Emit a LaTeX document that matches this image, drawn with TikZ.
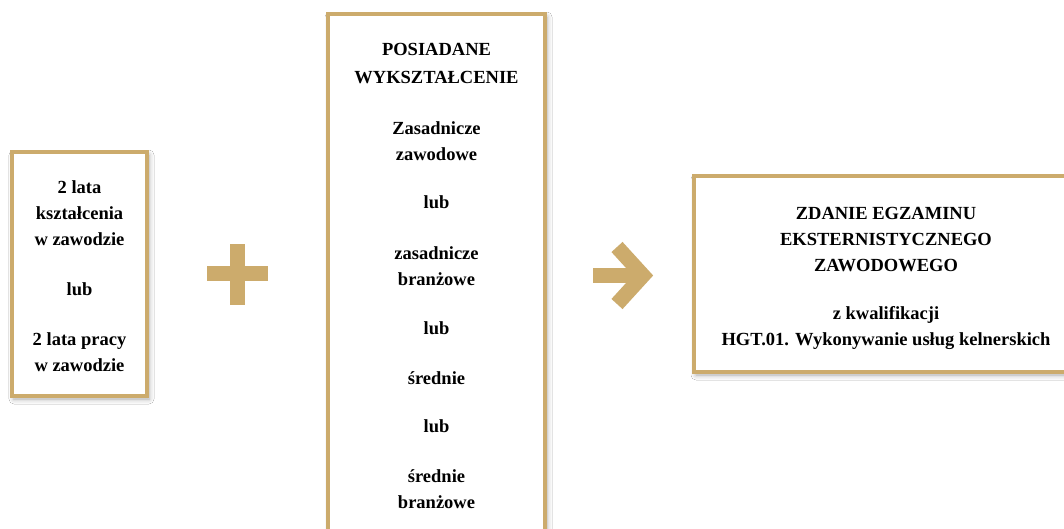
\documentclass[tikz,border=0pt]{standalone}
\usepackage{fontspec}
\setmainfont{Liberation Serif}
\usetikzlibrary{shadows.blur}
\definecolor{gold}{RGB}{204,171,108}
\tikzset{
  goldbox/.style={draw=gold, line width=4pt, fill=white, inner sep=0pt,
    blur shadow={shadow xshift=2pt, shadow yshift=-3pt, shadow blur radius=5pt, shadow opacity=35}},
  boxtext/.style={inner sep=0pt, align=center, font=\bfseries\fontsize{18.5}{26}\selectfont},
  goldsym/.style={draw=gold, line width=15pt, line cap=butt, line join=miter}
}
\begin{document}
\begin{tikzpicture}[x=1pt,y=-1pt]
\useasboundingbox (0,0) rectangle (1064,529);
\clip (0,0) rectangle (1064,529);
\fill[white] (0,0) rectangle (1064,529);
% boxes
\node[goldbox, minimum width=135pt, minimum height=244pt] (exp) at (79.5,274) {};
\node[goldbox, minimum width=217pt, minimum height=522pt] (edu) at (436.5,275) {};
\node[goldbox, minimum width=384pt, minimum height=196pt] (exam) at (886,274) {};
% texts
\node[boxtext] (exptext) at (79.5,276.5)
  {2 lata\\kształcenia\\w zawodzie\\[24pt]lub\\[24pt]2 lata pracy\\w zawodzie};
\node[boxtext] (edutext) at (436.5,276)
  {POSIADANE\\[2pt]WYKSZTAŁCENIE\\[25pt]Zasadnicze\\zawodowe\\[22pt]lub\\[25pt]zasadnicze\\branżowe\\[23pt]lub\\[24pt]średnie\\[22pt]lub\\[24pt]średnie\\branżowe};
\node[boxtext] (examtext) at (886,278.5)
  {ZDANIE EGZAMINU\\EKSTERNISTYCZNEGO\\ZAWODOWEGO\\[22pt]z kwalifikacji\\HGT.01. Wykonywanie usług kelnerskich};
% plus sign
\draw[goldsym] (207,273.5) -- (268,273.5);
\draw[goldsym] (237.5,244) -- (237.5,305);
% arrow
\draw[goldsym] (593,275.5) -- (640,275.5);
\draw[goldsym] (617,247) -- (643,275.5) -- (617,304);
\end{tikzpicture}
\end{document}
